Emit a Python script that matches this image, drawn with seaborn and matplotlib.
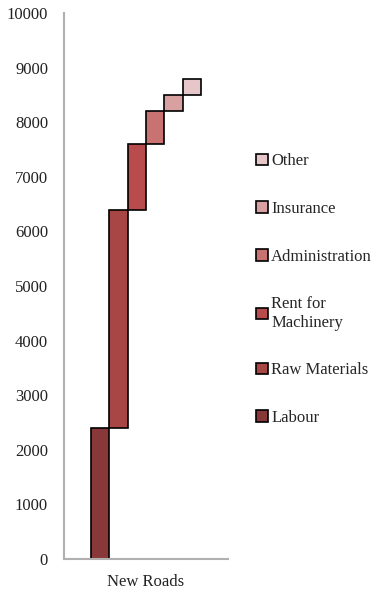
import matplotlib
matplotlib.use("Agg")
import matplotlib.pyplot as plt
import seaborn as sns
import pandas as pd

# cost components of the "New Roads" project, drawn as a waterfall
category = "New Roads"
components = ["Labour", "Raw Materials", "Rent for\nMachinery",
              "Administration", "Insurance", "Other"]
costs = [2400, 4000, 1200, 600, 300, 300]
colors = ["#883838", "#A84646", "#B84C4C", "#C87272", "#D9A0A2", "#E6C6C9"]

starts = [sum(costs[:i]) for i in range(len(costs))]
df = pd.DataFrame({"project": [category] * len(costs),
                   "component": components,
                   "cost": costs})

sns.set_style("white")
plt.rcParams["font.family"] = ["Liberation Serif", "DejaVu Serif"]

fig = plt.figure(figsize=(3.81, 5.96), dpi=100)
ax = fig.add_axes([0.168, 0.062, 0.43, 0.916])

sns.barplot(data=df, x="project", y="cost", hue="component",
            hue_order=components, palette=colors, saturation=1, width=0.67,
            edgecolor="black", linewidth=1.2, legend=False, ax=ax)

# lift each bar to start where the previous one ends
for patch, start in zip(ax.patches, starts):
    patch.set_y(start)

ax.set_ylim(0, 10000)
ax.set_yticks(range(0, 10001, 1000))
ax.set_xlabel("")
ax.set_ylabel("")
ax.tick_params(axis="both", length=0, labelsize=12, colors="#222222")
ax.tick_params(axis="y", pad=11.5)
ax.tick_params(axis="x", pad=11)
for side in ["top", "right"]:
    ax.spines[side].set_visible(False)
for side in ["left", "bottom"]:
    ax.spines[side].set_color("#b0b0b0")
    ax.spines[side].set_linewidth(1.5)

handles = list(ax.patches)[::-1]
labels = components[::-1]
fig.legend(handles, labels, loc="upper left", bbox_to_anchor=(0.655, 0.754),
           frameon=False, fontsize=12, labelspacing=1.9,
           handlelength=0.7, handleheight=0.7, handletextpad=0.2,
           borderaxespad=0)

fig.savefig("out.png", dpi=100)
